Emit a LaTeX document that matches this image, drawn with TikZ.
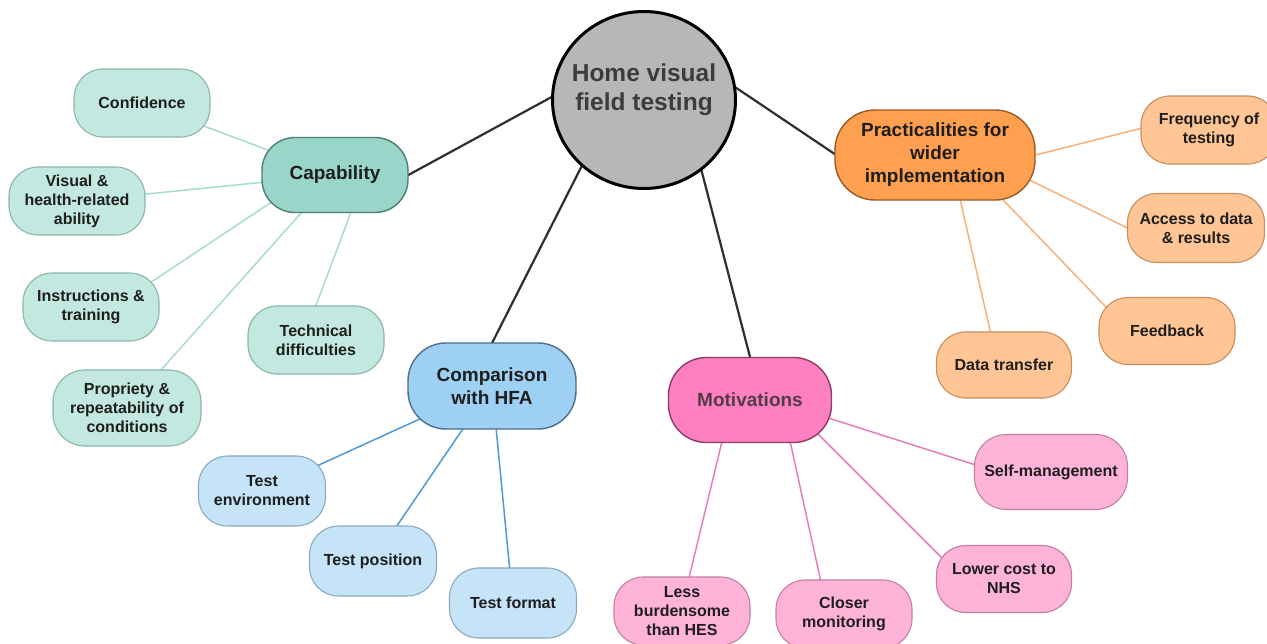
\documentclass[tikz,border=0pt]{standalone}
\usepackage{fontspec}
\setmainfont{Liberation Sans}
\usetikzlibrary{shapes.geometric}
\pgfdeclarelayer{bg}
\pgfsetlayers{bg,main}
\definecolor{txt}{HTML}{1E1E1E}
\definecolor{hubtxt}{HTML}{3C3C3C}
\definecolor{grayF}{HTML}{B7B7B7}
\definecolor{mainline}{HTML}{2E2E2E}
\definecolor{tealM}{HTML}{99D5C9}
\definecolor{tealMB}{HTML}{4F7E74}
\definecolor{tealL}{HTML}{C2E8DF}
\definecolor{tealLB}{HTML}{8DB5AB}
\definecolor{tealE}{HTML}{A6DCCF}
\definecolor{blueM}{HTML}{9DD0F3}
\definecolor{blueMB}{HTML}{4C6F8A}
\definecolor{blueL}{HTML}{C5E4F7}
\definecolor{blueLB}{HTML}{8CA9BF}
\definecolor{blueE}{HTML}{5098D6}
\definecolor{pinkM}{HTML}{FF80C0}
\definecolor{pinkMB}{HTML}{8A3D63}
\definecolor{pinkL}{HTML}{FFB3D9}
\definecolor{pinkLB}{HTML}{C27FA0}
\definecolor{pinkE}{HTML}{E57FBC}
\definecolor{oranM}{HTML}{FFA050}
\definecolor{oranMB}{HTML}{9A5A24}
\definecolor{oranL}{HTML}{FFC595}
\definecolor{oranLB}{HTML}{C98D5C}
\definecolor{oranE}{HTML}{F6B27A}
\begin{document}
\begin{tikzpicture}[x=1pt,y=1pt,
  base/.style={rectangle, align=center, inner sep=0pt, text=txt,
    font=\fontsize{16}{19}\selectfont\bfseries},
  kid/.style={base, minimum width=136pt, minimum height=68pt, rounded corners=29pt, line width=1.1pt},
  hub/.style={base, font=\fontsize{19}{23}\selectfont\bfseries, line width=1.4pt},
  tkid/.style={kid, fill=tealL, draw=tealLB},
  bkid/.style={kid, fill=blueL, draw=blueLB},
  pkid/.style={kid, fill=pinkL, draw=pinkLB},
  okid/.style={kid, fill=oranL, draw=oranLB},
  medge/.style={line width=2.2pt, draw=mainline},
  tedge/.style={line width=1.5pt, draw=tealE},
  bedge/.style={line width=1.5pt, draw=blueE},
  pedge/.style={line width=1.5pt, draw=pinkE},
  oedge/.style={line width=1.5pt, draw=oranE}
]
\useasboundingbox (0,0) rectangle (1267,-643);

% centre
\node[ellipse, minimum width=183pt, minimum height=177pt, inner sep=0pt,
  fill=grayF, draw=black, line width=3pt,
  label={[yshift=10pt, align=center, text=hubtxt, inner sep=0pt,
    font=\fontsize{24.5}{29}\selectfont\bfseries]center:Home visual\\field testing}] (hv) at (644,-100) {};

% hubs
\node[hub, minimum width=146pt, minimum height=75pt, rounded corners=33pt, fill=tealM, draw=tealMB] (cap) at (335,-175) {Capability};
\node[hub, minimum width=168pt, minimum height=86pt, rounded corners=38pt, fill=blueM, draw=blueMB] (comp) at (492,-386) {Comparison\\with HFA};
\node[hub, minimum width=163pt, minimum height=85pt, rounded corners=38pt, fill=pinkM, draw=pinkMB, text=hubtxt!70!pinkMB] (mot) at (750,-400) {Motivations};
\node[hub, minimum width=200pt, minimum height=90pt, rounded corners=40pt, fill=oranM, draw=oranMB] (prac) at (935,-155) {Practicalities for\\wider\\implementation};

% capability children
\node[tkid] (conf) at (142,-103) {Confidence};
\node[tkid] (vis) at (77,-201) {Visual \&\\health-related\\ability};
\node[tkid] (instr) at (91,-307) {Instructions \&\\training};
\node[tkid, minimum width=148pt, minimum height=76pt, rounded corners=32pt] (prop) at (127,-408) {Propriety \&\\repeatability of\\conditions};
\node[tkid] (tech) at (316,-340) {Technical\\difficulties};

% comparison children
\node[bkid, minimum width=127pt, minimum height=70pt] (tenv) at (262,-491) {Test\\environment};
\node[bkid, minimum width=127pt, minimum height=70pt] (tpos) at (373,-561) {Test position};
\node[bkid, minimum width=127pt, minimum height=70pt] (tfmt) at (513,-603) {Test format};

% motivations children
\node[pkid, minimum width=153pt, minimum height=75pt, rounded corners=32pt] (self) at (1051,-472) {Self-management};
\node[pkid, minimum width=135pt, minimum height=67pt] (lower) at (1004,-579) {Lower cost to\\NHS};
\node[pkid] (closer) at (844,-614) {Closer\\monitoring};
\node[pkid] (less) at (682,-611) {Less\\burdensome\\than HES};

% practicalities children
\node[okid] (freq) at (1209,-130) {Frequency of\\testing};
\node[okid, minimum width=137pt, minimum height=69pt] (acc) at (1196,-228) {Access to data\\\& results};
\node[okid, minimum height=67pt] (feed) at (1167,-331) {Feedback};
\node[okid, minimum width=135pt, minimum height=66pt] (dt) at (1004,-365) {Data transfer};

\begin{pgfonlayer}{bg}
  \fill[white] (0,0) rectangle (1267,-643);
  % main connectors
  \draw[medge] ([shift={(-74,13)}]hv.center) -- ([shift={(55,-10)}]cap.center);
  \draw[medge] ([shift={(-44,-30)}]hv.center) -- ([shift={(-5,33)}]comp.center);
  \draw[medge] ([shift={(48,-34)}]hv.center) -- ([shift={(6,20)}]mot.center);
  \draw[medge] ([shift={(76,23)}]hv.center) -- ([shift={(-75,-16)}]prac.center);
  % capability
  \draw[tedge] (conf.center) -- (cap.center);
  \draw[tedge] (vis.center) -- (cap.center);
  \draw[tedge] ([shift={(0,-15)}]instr.center) -- ([shift={(0,15)}]cap.center);
  \draw[tedge] (prop.center) -- (cap.center);
  \draw[tedge] ([shift={(-13,0)}]tech.center) -- ([shift={(30,0)}]cap.center);
  % comparison
  \draw[bedge] (tenv.center) -- (comp.center);
  \draw[bedge] (tpos.center) -- (comp.center);
  \draw[bedge] (tfmt.center) -- (comp.center);
  % motivations
  \draw[pedge] ([shift={(0,-17)}]self.center) -- ([shift={(0,7)}]mot.center);
  \draw[pedge] ([shift={(-41,0)}]lower.center) -- ([shift={(34,0)}]mot.center);
  \draw[pedge] ([shift={(-16,0)}]closer.center) -- ([shift={(31,0)}]mot.center);
  \draw[pedge] ([shift={(-1,0)}]less.center) -- ([shift={(-18,0)}]mot.center);
  % practicalities
  \draw[oedge] ([shift={(-39,9)}]freq.center) -- ([shift={(65,-9)}]prac.center);
  \draw[oedge] ([shift={(-36,-16)}]acc.center) -- ([shift={(65,-10.5)}]prac.center);
  \draw[oedge] ([shift={(-38,0)}]feed.center) -- ([shift={(25,0)}]prac.center);
  \draw[oedge] ([shift={(-6,0)}]dt.center) -- ([shift={(15,0)}]prac.center);
\end{pgfonlayer}
\end{tikzpicture}
\end{document}
